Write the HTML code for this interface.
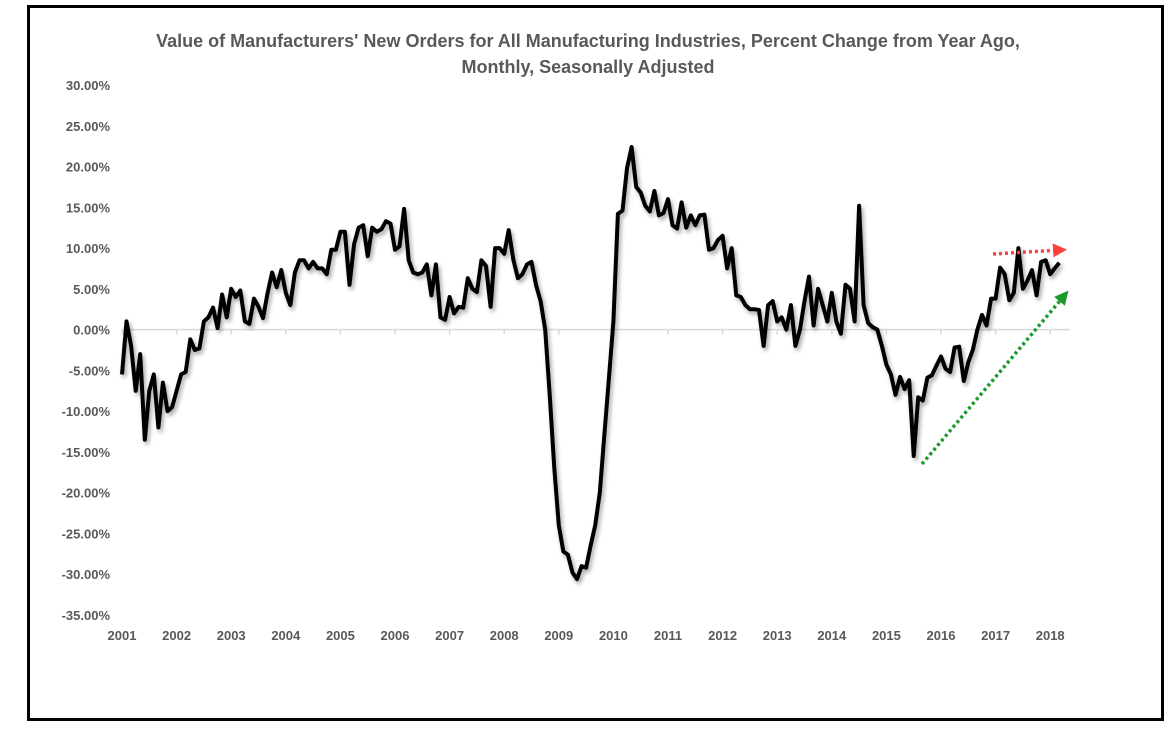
<!DOCTYPE html>
<html><head><meta charset="utf-8"><style>
body{margin:0;background:#fff;font-family:"Liberation Sans",sans-serif}
#frame{position:absolute;left:27px;top:5px;width:1131px;height:710px;border:3px solid #000}
</style></head><body>
<div id="frame"></div>
<svg id="chart" width="1171" height="730" style="position:absolute;left:0;top:0">
<defs>
<filter id="sh" x="-5%" y="-5%" width="110%" height="110%"><feGaussianBlur in="SourceAlpha" stdDeviation="2"/><feOffset dx="2" dy="3"/><feComponentTransfer><feFuncA type="linear" slope="0.35"/></feComponentTransfer><feMerge><feMergeNode/><feMergeNode in="SourceGraphic"/></feMerge></filter>
<marker id="ar" viewBox="0 0 10 10" refX="5" refY="5" markerWidth="4" markerHeight="4" orient="auto"><path d="M0,0L10,5L0,10z" fill="#ff4040"/></marker>
<marker id="ag" viewBox="0 0 10 10" refX="5" refY="5" markerWidth="4" markerHeight="4" orient="auto"><path d="M0,0L10,5L0,10z" fill="#1a9a2a"/></marker>
</defs>
<text x="588" y="47" text-anchor="middle" font-size="18" font-weight="bold" fill="#595959">Value of Manufacturers' New Orders for All Manufacturing Industries, Percent Change from Year Ago,</text>
<text x="588" y="73" text-anchor="middle" font-size="18" font-weight="bold" fill="#595959">Monthly, Seasonally Adjusted</text>
<g id="axes"></g>
<g id="series"></g>
<line x1="993" y1="254" x2="1060" y2="250" stroke="#ff4040" stroke-width="3.5" stroke-dasharray="3,3" marker-end="url(#ar)"/>
<line x1="922" y1="464" x2="1064" y2="296" stroke="#1a9a2a" stroke-width="3.5" stroke-dasharray="3,3" marker-end="url(#ag)"/>
</svg>
<script>
const yTicks=[30,25,20,15,10,5,0,-5,-10,-15,-20,-25,-30,-35];
const years=[2001,2002,2003,2004,2005,2006,2007,2008,2009,2010,2011,2012,2013,2014,2015,2016,2017,2018];
const startYear=2001;
const values=[
-5.5,1.0,-2,-7.5,-3,-13.5,-7.5,-5.5,-12,-6.5,-10,-9.5,
-7.5,-5.5,-5.2,-1.2,-2.5,-2.3,1,1.5,2.7,0.2,4.3,1.5,
5.0,4.0,4.8,1.0,0.7,3.8,2.8,1.4,4.5,7.0,5.2,7.3,
4.5,3.0,7.0,8.5,8.5,7.5,8.3,7.5,7.5,6.8,9.8,9.8,
12,12,5.5,10.5,12.5,12.8,9.0,12.5,12.0,12.3,13.3,13.0,
9.8,10.2,14.8,8.5,7.0,6.8,7.0,8.0,4.2,8.0,1.5,1.2,
4.0,2.0,2.8,2.7,6.3,5.0,4.6,8.5,7.8,2.8,10.0,10.0,
9.3,12.2,8.6,6.3,6.8,8.0,8.3,5.5,3.5,0.0,-8,-17,
-24,-27.2,-27.6,-29.8,-30.6,-29.0,-29.2,-26.5,-24,-20,-13,-6,
1,14.2,14.6,19.8,22.4,17.5,16.8,15.2,14.5,17.0,14.0,14.3,
16.0,12.8,12.4,15.6,12.5,14.0,12.8,14.0,14.1,9.8,10.0,11.0,
11.5,7.5,10.0,4.2,4.0,3.0,2.5,2.5,2.4,-2.0,3.0,3.5,
1.0,1.5,0.0,3.0,-2.0,0.0,3.5,6.5,0.5,5.0,3.0,1.0,
4.5,1.0,-0.5,5.5,5.0,1.0,15.2,3.0,0.8,0.3,0.0,-2.0,
-4.3,-5.5,-8.0,-5.8,-7.3,-6.2,-15.5,-8.3,-8.7,-5.9,-5.6,-4.4,
-3.3,-4.8,-5.2,-2.2,-2.1,-6.3,-4.0,-2.5,0,1.8,0.5,3.8,
3.8,7.6,6.8,3.6,4.5,10.0,5.0,6.0,7.3,4.2,8.3,8.5,
6.8,7.5,8.2];
const NS='http://www.w3.org/2000/svg';
const y=v=>329.6-(v)*8.154;
const x=t=>122+(t-startYear)*54.6;
const axes=document.getElementById('axes');
function mk(tag,attrs,parent){const e=document.createElementNS(NS,tag);for(const k in attrs)e.setAttribute(k,attrs[k]);parent.appendChild(e);return e;}
yTicks.forEach(v=>{
  const t=mk('text',{x:110,y:y(v)+5,'text-anchor':'end','font-size':13,'font-weight':'bold',fill:'#595959'},axes);
  
  
  t.textContent=v.toFixed(2)+'%';
});
const zl=mk('line',{x1:122,x2:1070,y1:y(0),y2:y(0),stroke:'#d9d9d9','stroke-width':1.5},axes);


years.forEach(yr=>{
  const tk=mk('line',{x1:x(yr),x2:x(yr),y1:y(0),y2:y(0)+5,stroke:'#d9d9d9','stroke-width':1.5},axes);
  
  
  const t=mk('text',{x:x(yr),y:640,'text-anchor':'middle','font-size':13,'font-weight':'bold',fill:'#595959'},axes);
  
  
  t.textContent=yr;
});
const pts=values.map((v,i)=>x(startYear+i/12).toFixed(1)+','+y(v).toFixed(1)).join(' ');
const pl=mk('polyline',{points:pts,fill:'none',stroke:'#000','stroke-width':4,'stroke-linejoin':'round',filter:'url(#sh)'},document.getElementById('series'));


</script>
</body></html>
